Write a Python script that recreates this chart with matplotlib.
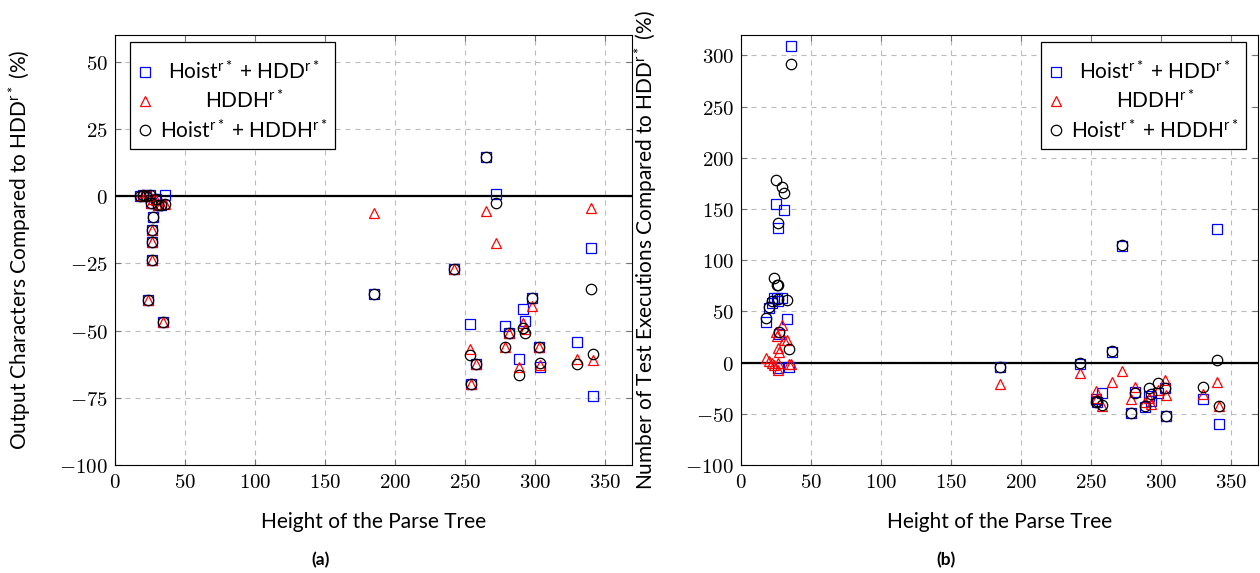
import matplotlib
matplotlib.use('Agg')
import matplotlib.pyplot as plt
from matplotlib.ticker import FuncFormatter, MultipleLocator
from matplotlib.font_manager import FontProperties

plt.rcParams['font.family'] = ['Lato', 'DejaVu Sans']
plt.rcParams['mathtext.fontset'] = 'cm'
plt.rcParams['mathtext.rm'] = 'Lato'
plt.rcParams['mathtext.it'] = 'Lato:italic'
plt.rcParams['mathtext.bf'] = 'Lato:bold'
plt.rcParams['mathtext.sf'] = 'Lato'

# height of the parse tree for each subject
height = [18, 20, 22, 23.5, 25, 26, 26.5, 27, 26.5, 26.5, 29, 31, 33, 34.3, 36,
          185, 242, 253.5, 254, 257.5, 265, 272, 278.5, 281.5, 288, 291.5, 292.5,
          297.5, 302.5, 303.5, 330, 339.5, 341.5]

# (a) output characters compared to HDD r* (%)
chars_hoist_hdd = [0, 0.5, 0, -38.6, 0.5, -2.6, -12.4, -7.6, -17, -23.6, -1, -3.2, -3.2, -46.8, 0.5,
                   -36.5, -27.2, -47.6, -69.7, -62.6, 14.5, 0.7, -48.2, -51, -60.6, -42, -46.3,
                   -38, -56, -63.5, -54.3, -19.4, -74.3]
chars_hddh = [0.5, 0, 0.5, -38.6, 0, -2.6, -12.4, -1, -17, -23.6, -1.5, -3.2, -3, -46.8, -3,
              -6.3, -27.2, -57, -69.7, -62.6, -5.4, -17.5, -56, -51, -63.7, -47, -49.5,
              -41, -56, -62.7, -60.7, -4.5, -61]
chars_hoist_hddh = [0, 0.5, 0, -38.6, 0.5, -2.6, -12.4, -7.6, -17, -23.6, -1, -3.2, -3.2, -46.8, -3,
                    -36.5, -27.2, -59, -69.7, -62.6, 14.5, -2.6, -56, -51, -66.5, -49, -51,
                    -38, -56, -62, -62.4, -34.4, -58.7]

# (b) number of test executions compared to HDD r* (%)
tests_hoist_hdd = [40, 53, 58, 63, 155, 63, 60, 28, 131, -5, 63, 149, 43, -4, 309,
                   -4.5, -1, -36, -38, -30, 9.9, 114, -49.5, -29, -43, -33, -37,
                   -30, -25, -52, -35.8, 130.5, -60]
tests_hddh = [4.6, 2, 0, -2, 30, 26, 0, 10, 14, -7, 37, 22, 22, -1, -1,
              -21, -10.3, -28, -35, -42, -19, -7.7, -35.5, -24, -38, -35, -40,
              -27, -17, -32, -30.9, -18.5, -42]
tests_hoist_hddh = [44, 54.5, 60, 82.6, 178, 76, 62, 30, 136.5, 76, 172, 166, 61, 13, 292,
                    -4.5, 0, -38, -37, -41, 11, 114.5, -49.5, -30, -42, -25, -31,
                    -19.5, -25, -52, -24, 2.7, -42]

labels = [r'Hoist$^{\mathrm{r*}}$ + HDD$^{\mathrm{r*}}$',
          r'HDDH$^{\mathrm{r*}}$',
          r'Hoist$^{\mathrm{r*}}$ + HDDH$^{\mathrm{r*}}$']


def panel(ax, ys, ylabel, yticks, ylim, legend_loc, legend_anchor):
    ax.axhline(0, color='black', lw=1.6, zorder=2)
    ax.plot(height, ys[0], 's', ms=7.5, mfc='none', mec='blue', mew=0.9, label=labels[0], zorder=3)
    ax.plot(height, ys[1], '^', ms=7, mfc='none', mec='red', mew=0.9, label=labels[1], zorder=3)
    ax.plot(height, ys[2], 'o', ms=7.5, mfc='none', mec='black', mew=0.9, label=labels[2], zorder=3)
    ax.set_xlim(0, 369)
    ax.set_ylim(*ylim)
    ax.xaxis.set_major_locator(MultipleLocator(50))
    ax.set_yticks(yticks)
    fmt = FuncFormatter(lambda v, p: '$%d$' % v)
    ax.xaxis.set_major_formatter(fmt)
    ax.yaxis.set_major_formatter(fmt)
    ax.tick_params(direction='in', top=True, right=True, length=4, color='0.45', labelsize=15, pad=5)
    ax.grid(True, ls=(0, (4.5, 4.5)), color='#bbbbbb', lw=0.8)
    ax.set_axisbelow(True)
    ax.set_xlabel('Height of the Parse Tree', fontsize=15)
    ax.xaxis.set_label_coords(0.5, -0.11)
    ax.set_ylabel(ylabel, fontsize=15, math_fontfamily='custom')
    ax.yaxis.set_label_coords(-0.158, 0.5)
    # tiny blank title only to get the extra room above the first row
    leg = ax.legend(loc=legend_loc, bbox_to_anchor=legend_anchor, borderaxespad=0,
                    fancybox=False, edgecolor='black', framealpha=1,
                    prop=FontProperties(family='Lato', size=15, math_fontfamily='custom'),
                    title=' ', title_fontsize=3.5,
                    handlelength=0.7, handletextpad=0.4, labelspacing=0.3, borderpad=0.35)
    leg.get_frame().set_linewidth(0.9)
    return leg


def center_legend_text(fig, leg):
    # pgfplots puts the legend text in the middle of the column
    fig.canvas.draw()
    r = fig.canvas.get_renderer()
    texts = leg.get_texts()
    w = [t.get_window_extent(r).width for t in texts]
    for t, wi in zip(texts, w):
        t.set_x((max(w) - wi) / 2)


fig = plt.figure(figsize=(12.6, 5.73), dpi=100)
ax1 = fig.add_axes([115 / 1260, 1 - 465 / 573, 517 / 1260, 430 / 573])
ax2 = fig.add_axes([741 / 1260, 1 - 465 / 573, 517 / 1260, 430 / 573])

leg1 = panel(ax1, [chars_hoist_hdd, chars_hddh, chars_hoist_hddh],
             r'Output Characters Compared to HDD$^{\mathrm{r*}}$ (%)',
             [-100, -75, -50, -25, 0, 25, 50], (-100, 60), 'upper left', (0.029, 0.984))
leg2 = panel(ax2, [tests_hoist_hdd, tests_hddh, tests_hoist_hddh],
             r'Number of Test Executions Compared to HDD$^{\mathrm{r*}}$ (%)',
             [-100, -50, 0, 50, 100, 150, 200, 250, 300], (-100, 320), 'upper right', (0.977, 0.984))

# no horizontal grid above zero on the left panel
for tick in ax1.yaxis.get_major_ticks():
    if tick.get_loc() > 0:
        tick.gridline.set_visible(False)

fig.text(321 / 1260, 1 - 560 / 573, '(a)', ha='center', va='center', fontweight='bold', fontsize=12.5)
fig.text(946 / 1260, 1 - 560 / 573, '(b)', ha='center', va='center', fontweight='bold', fontsize=12.5)

center_legend_text(fig, leg1)
center_legend_text(fig, leg2)

fig.savefig('out.png', dpi=100)
